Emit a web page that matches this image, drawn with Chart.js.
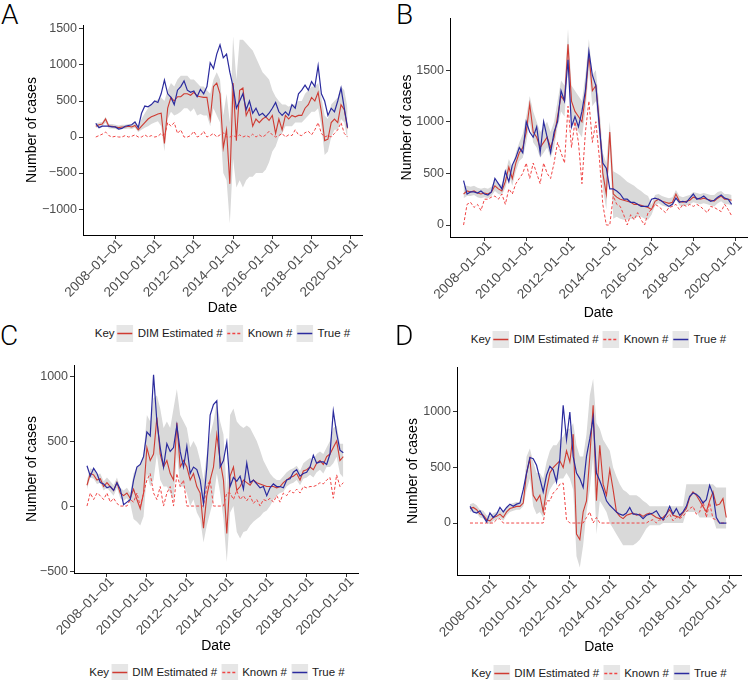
<!DOCTYPE html>
<html><head><meta charset="utf-8">
<script src="https://cdn.jsdelivr.net/npm/chart.js@4/dist/chart.umd.min.js"></script>
<style>
body{margin:0;background:#fff;width:750px;height:680px;position:relative;overflow:hidden;font-family:"Liberation Sans",Arial,sans-serif;}
.pc{position:absolute;}
.letter{position:absolute;font-family:Roboto,"Open Sans",sans-serif;font-weight:300;font-size:28px;line-height:28px;color:#000;}
.legend{position:absolute;display:flex;align-items:center;font-size:11.5px;color:#1a1a1a;white-space:nowrap;transform:translateX(-50%);height:18px;}
.legend svg{margin:0 4px;display:block;}
</style></head>
<body>
<script>
// time grid: every two months from Jan 2007
const startYear = 2007, stepYears = 1/6;
const xTickYears = [2008, 2010, 2012, 2014, 2016, 2018, 2020];
const xTickLabels = ['2008\u201301\u201301','2010\u201301\u201301','2012\u201301\u201301','2014\u201301\u201301','2016\u201301\u201301','2018\u201301\u201301','2020\u201301\u201301'];
const seriesNames = ['DIM Estimated #', 'Known #', 'True #'];

// ---- Panel A ----
const trueA = [190,130,150,150,150,140, 140,110,120,150,160,170, 210,130,330,430,420,450, 500,480,600,790,600,550, 450,650,700,780,650,620, 640,560,660,600,700,1030, 950,1150,1280,1100,1150,900, 700,400,500,600,380,500, 330,400,300,330,280,330, 400,480,350,300,350,300, 450,400,600,650,720,650, 770,700,990,600,500,300, 400,350,500,680,400,130];
const estA = [150,170,180,250,150,150, 140,130,140,140,150,140, 160,100,150,200,250,280, 300,320,330,-90,400,550, 500,560,560,600,600,580, 620,570,560,550,550,250, 700,750,600,-150,100,-650, 750,-50,650,680,300,400, 150,250,200,250,280,230, 300,50,250,100,300,250, 300,280,300,300,400,450, 550,500,620,350,-50,-30, 200,250,200,450,380,120];
const knownA = [0,20,40,70,20,0, 10,0,0,20,0,10, 30,0,0,30,0,20, 0,10,50,0,200,150, 200,50,100,0,0,20, 80,0,20,80,0,20, 50,0,30,60,0,0, 20,0,30,0,20,0, 40,0,30,0,30,80, 30,0,20,50,0,30, 20,100,30,20,60,80, 30,100,200,50,0,20, 0,50,100,200,50,0];
const lowA = [130,140,150,200,120,120, 110,100,110,110,120,110, 130,70,100,130,150,180, 200,220,150,-200,250,350, 300,320,350,400,400,350, 400,300,320,300,300,150, 400,300,200,-500,-600,-1200, -300,-700,-600,-700,-600,-550, -550,-500,-500,-500,-450,-350, -200,-130,0,50,150,150, 150,200,200,200,250,300, 350,350,400,150,-250,-200, 0,100,100,250,200,-50];
const highA = [190,200,210,280,180,180, 170,160,170,170,180,170, 200,140,250,330,400,450, 500,520,550,500,650,750, 700,800,850,850,850,800, 800,750,700,700,650,600, 800,900,800,300,600,200, 1400,800,1350,1350,1300,1250, 1200,1100,1000,900,850,800, 650,560,500,450,450,420, 450,450,500,500,600,650, 700,700,750,550,300,250, 450,500,550,700,650,400];
const yTicksA = [-1000,-500,0,500,1000,1500];
const yLabelsA = ['\u22121000','\u2212500','0','500','1000','1500'];

// ---- Panel B ----
const trueB = [430,300,320,320,310,330, 300,290,320,450,400,350, 520,420,580,650,750,700, 1000,900,850,950,700,1000, 850,700,900,1000,1300,1200, 1600,950,1050,950,1100,1300, 1680,1450,1350,950,600,550, 350,350,330,300,250,250, 220,220,200,180,180,180, 250,260,250,230,200,180, 200,260,220,230,220,260, 300,250,260,280,250,230, 240,270,290,260,250,200];
const estB = [300,330,320,330,310,300, 310,300,320,380,350,330, 420,560,450,600,700,750, 900,1170,900,850,750,800, 850,750,850,1050,1250,1200, 1750,1200,1100,1050,1000,1250, 1650,1300,1350,1000,500,300, 900,300,270,250,240,230, 220,200,200,190,180,170, 150,230,250,230,220,210, 220,300,230,220,230,240, 270,260,250,260,250,240, 230,260,280,250,250,240];
const knownB = [0,200,220,170,200,140, 250,250,270,280,250,300, 200,350,300,400,450,500, 600,450,600,500,400,600, 500,450,600,800,700,600, 1150,750,1000,800,400,900, 1200,800,1000,650,200,0, 0,280,200,180,100,0, 100,50,120,50,0,120, 150,200,180,150,120,170, 180,200,150,200,180,200, 180,200,180,150,120,180, 170,150,130,200,150,90];
const lowB = [260,280,280,290,270,260, 270,260,280,330,300,290, 360,480,380,520,620,650, 800,1000,800,750,650,700, 750,650,750,950,1100,1050, 1550,1000,950,900,850,1100, 1500,1150,1200,850,350,150, 750,60,80,60,50,50, 60,60,80,80,60,50, 100,190,210,190,180,170, 180,250,190,180,190,200, 220,210,200,210,200,190, 180,210,230,200,200,190];
const highB = [380,380,370,380,360,350, 360,350,370,430,400,390, 500,640,560,700,800,880, 1050,1250,1100,1000,900,950, 1000,900,1000,1200,1400,1350, 1900,1350,1300,1250,1200,1450, 1800,1450,1500,1150,700,600, 1000,520,500,480,450,420, 400,380,350,330,300,280, 200,290,300,280,270,260, 270,340,280,270,280,290, 320,310,300,310,300,290, 290,320,330,300,300,290];
const yTicksB = [0,500,1000,1500];
const yLabelsB = ['0','500','1000','1500'];

// ---- Panel C ----
const trueC = [310,230,290,250,180,170, 140,150,120,180,130,10, 30,50,200,300,320,380, 570,540,1010,650,450,300, 480,420,450,620,420,300, 460,250,300,280,200,20, 300,700,780,810,300,350, 490,150,220,190,230,130, 330,180,200,170,140,150, 80,140,170,150,150,140, 200,210,260,280,230,250, 260,300,390,330,340,340, 320,400,730,560,430,410];
const estC = [160,250,240,200,210,150, 180,150,120,180,100,80, 100,60,130,50,-20,100, 450,350,400,680,400,300, 350,250,200,640,300,350, 300,200,250,150,100,-170, 80,200,300,550,350,200, -210,230,300,120,150,200, 180,160,200,180,170,160, 150,150,150,140,150,180, 200,220,230,250,200,270, 280,300,280,330,350,320, 380,400,450,500,350,380];
const knownC = [0,100,50,100,80,50, 100,30,60,20,0,0, 0,50,30,100,0,100, 200,250,100,50,150,0, 100,150,0,250,150,200, 0,0,0,0,0,0, 150,200,0,0,0,0, 100,100,50,120,50,80, 40,80,20,50,0,50, 40,60,30,80,30,100, 80,120,100,130,100,150, 140,150,150,160,180,170, 200,220,60,240,150,180];
const lowC = [130,220,210,170,180,120, 140,110,80,140,60,40, 60,20,-100,-120,-150,-80, 250,150,200,400,200,150, 150,100,50,400,150,150, 100,0,50,-50,-100,-280, -150,-50,50,250,100,-100, -430,-50,0,-200,-250,-200, -190,-150,-120,-100,-80,-50, -35,0,50,80,100,110, 150,170,180,200,160,210, 220,240,220,260,280,250, 300,300,330,380,250,220];
const highC = [200,290,280,240,250,190, 220,190,160,220,140,120, 140,100,250,300,320,400, 700,650,830,850,750,600, 650,600,750,900,700,650, 600,450,500,450,350,200, 400,550,650,800,650,550, 100,700,750,650,620,600, 620,600,550,500,430,350, 300,250,220,200,200,230, 260,280,290,310,270,330, 350,370,360,400,420,400, 450,500,600,620,480,480];
const yTicksC = [-500,0,500,1000];
const yLabelsC = ['\u2212500','0','500','1000'];

// ---- Panel D ----
const trueD = [150,100,90,110,60,10, 90,50,80,140,100,140, 170,150,170,180,300,450, 590,580,520,400,280,430, 510,480,370,580,1060,750, 1000,600,450,400,320,600, 760,950,450,380,300,200, 160,130,100,80,70,90, 140,80,80,70,40,70, 80,90,110,60,30,80, 150,80,130,70,100,150, 240,270,260,230,180,210, 340,260,50,0,0,0];
const estD = [130,140,120,80,70,30, 20,50,60,80,50,100, 130,140,150,150,180,450, 580,250,200,250,100,300, 450,500,530,560,500,650, 550,800,-100,-150,100,200, 600,1060,200,700,350,250, 480,300,100,60,40,70, 80,90,70,80,60,80, 90,70,50,40,50,80, 120,70,60,50,90,130, 230,280,250,200,150,100, 200,280,160,170,220,50];
const knownD = [0,0,0,0,0,0, 0,0,30,40,0,0, 0,0,0,0,0,0, 0,0,0,0,0,200, 200,270,300,350,360,30, 0,0,0,0,0,50, 100,0,50,0,0,0, 0,0,0,0,0,0, 0,0,0,0,0,0, 20,30,0,30,20,50, 80,20,50,40,60,100, 130,150,80,100,200,50, 180,40,30,0,0,0];
const lowD = [100,110,90,50,40,0, -10,20,30,50,20,70, 100,110,120,120,150,300, 400,150,80,100,50,200, 300,350,380,400,400,450, 400,300,-300,-400,-200,100, 300,600,-100,200,150,100, 0,-50,-100,-150,-200,-200, -200,-200,-180,-150,-100,-50, -20,-20,-20,-20,0,0, 0,0,0,0,0,100, 100,100,100,50,50,50, 50,50,-50,-50,-50,-50];
const highD = [170,180,160,120,110,70, 60,90,100,120,90,140, 170,180,190,190,250,600, 670,550,450,450,400,550, 650,700,700,750,780,850, 850,900,700,600,600,800, 1150,1300,900,850,750,700, 650,500,420,350,300,280, 250,250,250,230,200,180, 150,150,150,150,150,150, 150,150,150,150,150,350, 350,350,350,350,350,350, 350,350,320,320,320,320];
const yTicksD = [0,500,1000];
const yLabelsD = ['0','500','1000'];

const RED = '#cf3b32', KNOWN = '#f04545', BLUE = '#2b2b9e', RIB = '#d9d9d9';
const FONT = "'Liberation Sans', Arial, sans-serif";

function pts(arr){ return arr.map((v,k)=>({x: startYear + k*stepYears, y: v})); }

const panels = [
  {letter:'A', lx:1, ly:1, left:0, top:0, width:375, height:318, area:{left:83, top:25, right:362, bottom:235}, yMin:-1360, yMax:1555, yTicks:yTicksA, yLabels:yLabelsA, yTitlePad:23.6, t:trueA, e:estA, k:knownA, lo:lowA, hi:highA, legX:222.5, legY:333},
  {letter:'B', lx:396, ly:1, left:375, top:0, width:375, height:323, area:{left:75, top:18, right:372, bottom:237}, yMin:-116, yMax:2004, yTicks:yTicksB, yLabels:yLabelsB, yTitlePad:23.6, t:trueB, e:estB, k:knownB, lo:lowB, hi:highB, legX:598.5, legY:339},
  {letter:'C', lx:0, ly:322, left:0, top:340, width:375, height:316, area:{left:74, top:25, right:358, bottom:233}, yMin:-515, yMax:1085, yTicks:yTicksC, yLabels:yLabelsC, yTitlePad:23.6, t:trueC, e:estC, k:knownC, lo:lowC, hi:highC, legX:217, legY:672},
  {letter:'D', lx:395, ly:322, left:375, top:340, width:375, height:317, area:{left:82, top:27, right:366, bottom:235}, yMin:-468, yMax:1405, yTicks:yTicksD, yLabels:yLabelsD, yTitlePad:29.6, t:trueD, e:estD, k:knownD, lo:lowD, hi:highD, legX:599, legY:673}
];

function keySvg(color, dashed){
  return '<svg width="17" height="17"><rect width="17" height="17" fill="#e6e6e6"/><line x1="1" x2="16" y1="8.5" y2="8.5" stroke="'+color+'" stroke-width="1.3"'+(dashed?' stroke-dasharray="3,2"':'')+'/></svg>';
}

panels.forEach(p => {
  const lt = document.createElement('div');
  lt.className = 'letter'; lt.textContent = p.letter;
  lt.style.left = p.lx + 'px'; lt.style.top = p.ly + 'px';
  document.body.appendChild(lt);

  const lg = document.createElement('div');
  lg.className = 'legend';
  lg.style.left = p.legX + 'px'; lg.style.top = (p.legY - 9) + 'px';
  lg.innerHTML = '<span style="margin-right:-2px">Key</span>' + keySvg(RED,false) + '<span>'+seriesNames[0]+'</span>' + keySvg(KNOWN,true) + '<span>'+seriesNames[1]+'</span>' + keySvg(BLUE,false) + '<span>'+seriesNames[2]+'</span>';
  document.body.appendChild(lg);

  const div = document.createElement('div');
  div.className = 'pc';
  div.style.left = p.left + 'px'; div.style.top = p.top + 'px';
  div.style.width = p.width + 'px'; div.style.height = p.height + 'px';
  const cv = document.createElement('canvas');
  cv.width = p.width; cv.height = p.height;
  div.appendChild(cv);
  document.body.appendChild(div);

  new Chart(cv, {
    type: 'line',
    data: { datasets: [
      {label: seriesNames[2], data: pts(p.t), borderColor: BLUE, borderWidth: 1.2, pointRadius: 0, fill: false, order: 0},
      {label: seriesNames[1], data: pts(p.k), borderColor: KNOWN, borderWidth: 1, borderDash: [3,2], pointRadius: 0, fill: false, order: 1},
      {label: seriesNames[0], data: pts(p.e), borderColor: RED, borderWidth: 1.1, pointRadius: 0, fill: false, order: 2},
      {label: 'lower', data: pts(p.lo), borderColor: 'rgba(0,0,0,0)', borderWidth: 0, pointRadius: 0, fill: false, order: 3},
      {label: 'upper', data: pts(p.hi), borderColor: 'rgba(0,0,0,0)', borderWidth: 0, pointRadius: 0, fill: '-1', backgroundColor: RIB, order: 4}
    ]},
    options: {
      responsive: false, animation: false, maintainAspectRatio: false,
      layout: {padding: {left: 0, top: p.area.top, right: p.width - p.area.right, bottom: 0}},
      plugins: {legend: {display: false}, tooltip: {enabled: false}, filler: {drawTime: 'beforeDatasetsDraw', propagate: false}},
      scales: {
        x: {
          type: 'linear', min: 2006.35, max: 2020.57,
          afterBuildTicks(s){ s.ticks = xTickYears.map(v => ({value: v})); },
          afterFit(s){ s.height = p.height - p.area.bottom; s.paddingLeft = 0; s.paddingRight = 0; },
          ticks: {autoSkip: false, minRotation: 45, maxRotation: 45, color: '#4d4d4d', padding: -3, labelOffset: 5,
                  font: {family: FONT, size: 13.5}, callback: (v, i) => xTickLabels[i]},
          grid: {drawOnChartArea: false, drawTicks: true, tickLength: 4, color: '#333'},
          border: {display: true, color: '#000', width: 1},
          title: {display: true, text: 'Date', color: '#000', font: {family: FONT, size: 14}, padding: {top: 0, bottom: 1.6}}
        },
        y: {
          min: p.yMin, max: p.yMax,
          afterBuildTicks(s){ s.ticks = p.yTicks.map(v => ({value: v})); },
          afterFit(s){ s.width = p.area.left; s.paddingTop = 0; s.paddingBottom = 0; },
          ticks: {color: '#4d4d4d', padding: 2, font: {family: FONT, size: 12.5},
                  callback: (v, i) => p.yLabels[i]},
          grid: {drawOnChartArea: false, drawTicks: true, tickLength: 4, color: '#333'},
          border: {display: true, color: '#000', width: 1},
          title: {display: true, text: 'Number of cases', color: '#000', font: {family: FONT, size: 14}, padding: {top: p.yTitlePad, bottom: 0}}
        }
      }
    }
  });
});
</script>
</body></html>
